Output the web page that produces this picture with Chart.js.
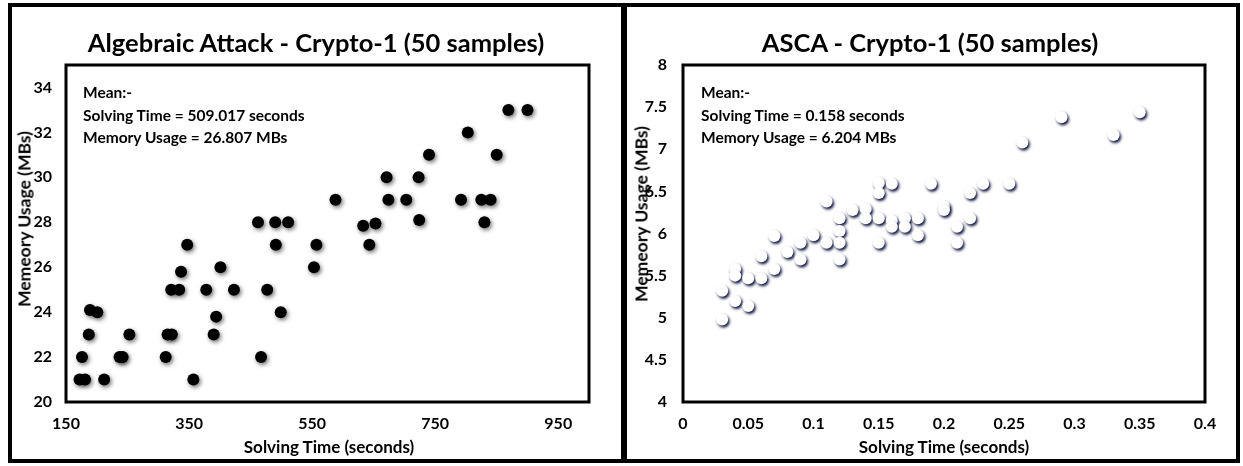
<!DOCTYPE html>
<html>
<head>
<meta charset="utf-8">
<script src="https://cdn.jsdelivr.net/npm/chart.js@4"></script>
<style>
  body { margin: 0; background: #fff; width: 1243px; height: 466px; position: relative; overflow: hidden; font-family: Lato, "Liberation Sans", sans-serif; font-weight: bold; color: #000; }
  .panel { position: absolute; box-sizing: border-box; border: 4px solid #000; }
  canvas { position: absolute; top: 0; }
  .txt { position: absolute; white-space: nowrap; }
  .title { font-size: 25.5px; text-align: center; line-height: 28px; }
  .axis { font-size: 17px; transform: translate(-50%, -50%); }
  .yaxis { font-size: 17.5px; transform: translate(-50%, -50%) rotate(-90deg); }
  .note { font-size: 15.5px; line-height: 22.5px; }
</style>
</head>
<body>
<div class="panel" style="left:8px;top:3px;width:613px;height:460px;border-right:none"></div>
<div class="panel" style="left:621px;top:3px;width:619px;height:460px;border-left-width:6px"></div>

<canvas id="c1" width="620" height="466" style="left:0"></canvas>
<canvas id="c2" width="623" height="466" style="left:620px"></canvas>

<div class="txt title" style="left:16px;width:600px;top:28px">Algebraic Attack - Crypto-1 (50 samples)</div>
<div class="txt title" style="left:630px;width:600px;top:28px">ASCA - Crypto-1 (50 samples)</div>

<div class="txt note" style="left:83px;top:81px">Mean:-<br>Solving Time = 509.017 seconds<br>Memory Usage = 26.807 MBs</div>
<div class="txt note" style="left:701px;top:81px">Mean:-<br>Solving Time = 0.158 seconds<br>Memory Usage = 6.204 MBs</div>

<div class="txt axis" style="left:329px;top:446px">Solving Time (seconds)</div>
<div class="txt axis" style="left:944px;top:446px">Solving Time (seconds)</div>
<div class="txt yaxis" style="left:24px;top:219px">Memeory Usage (MBs)</div>
<div class="txt yaxis" style="left:641px;top:214px">Memeory Usage (MBs)</div>

<script>
// Algebraic attack: solving time (s) and memory (MB) per sample
const algTime = [172, 181, 212, 357, 176, 237, 242, 312, 467, 187,
                 253, 315, 322, 390, 189, 201, 394, 499, 321, 334,
                 378, 423, 477, 337, 401, 347, 491, 557, 553, 462,
                 490, 511, 588, 633, 653, 643, 671, 674, 703, 723,
                 724, 740, 792, 803, 825, 840, 830, 850, 869, 900];
const algMem = [21, 21, 21, 21, 22, 22, 22, 22, 22, 23,
                23, 23, 23, 23, 24.1, 24, 23.8, 24, 25, 25,
                25, 25, 25, 25.8, 26, 27, 27, 27, 26, 28,
                28, 28, 29, 27.85, 27.95, 27, 30, 29, 29, 30,
                28.1, 31, 29, 32, 29, 29, 28, 31, 33, 33];

// ASCA: solving time (s) and memory (MB)
const ascaTime = [0.03, 0.03, 0.04, 0.05, 0.04, 0.04, 0.05, 0.06, 0.06, 0.07,
                  0.07, 0.08, 0.09, 0.09, 0.10, 0.11, 0.11, 0.12, 0.12, 0.12,
                  0.12, 0.13, 0.14, 0.14, 0.15, 0.15, 0.15, 0.15, 0.16, 0.16,
                  0.16, 0.17, 0.17, 0.18, 0.18, 0.19, 0.20, 0.20, 0.21, 0.21,
                  0.22, 0.22, 0.23, 0.25, 0.26, 0.29, 0.33, 0.35];
const ascaMem = [4.98, 5.32, 5.2, 5.14, 5.58, 5.5, 5.47, 5.47, 5.73, 5.58,
                 5.97, 5.78, 5.69, 5.89, 5.98, 6.38, 5.89, 6.18, 6.03, 5.89,
                 5.69, 6.28, 6.29, 6.18, 6.6, 6.48, 6.18, 5.89, 6.59, 6.15,
                 6.08, 6.18, 6.08, 6.18, 5.98, 6.59, 6.32, 6.28, 6.08, 5.89,
                 6.48, 6.18, 6.59, 6.59, 7.08, 7.38, 7.17, 7.44];

// tick labels
const algXTicks = [150, 350, 550, 750, 950];
const algYTicks = [20, 22, 24, 26, 28, 30, 32, 34];
const ascaXTicks = [0, 0.05, 0.1, 0.15, 0.2, 0.25, 0.3, 0.35, 0.4];
const ascaYTicks = [4, 4.5, 5, 5.5, 6, 6.5, 7, 7.5, 8];

const tickFont = { family: 'Lato', size: 16, weight: 'bold' };

// frame around the plot area + soft shadow under the markers
const plotDeco = {
  id: 'plotDeco',
  beforeDatasetsDraw(chart, args, opts) {
    const { ctx, chartArea: a } = chart;
    ctx.save();
    ctx.lineWidth = 3;
    ctx.strokeStyle = '#000';
    ctx.strokeRect(a.left, a.top, a.right - a.left, a.bottom - a.top);
    ctx.restore();
    ctx.save();
    ctx.shadowColor = opts.color;
    ctx.shadowBlur = opts.blur;
    ctx.shadowOffsetX = opts.dx;
    ctx.shadowOffsetY = opts.dy;
  },
  afterDatasetsDraw(chart) {
    chart.ctx.restore();
  }
};

function makeChart(id, xs, ys, cfg) {
  return new Chart(document.getElementById(id), {
    type: 'scatter',
    data: {
      datasets: [{
        data: xs.map((x, i) => ({ x: x, y: ys[i] })),
        pointRadius: 6,
        pointHoverRadius: 6,
        backgroundColor: cfg.fill,
        borderColor: cfg.fill,
        borderWidth: 0
      }]
    },
    options: {
      responsive: false,
      animation: false,
      layout: { padding: { left: 0, top: 65, right: cfg.padRight, bottom: 0 } },
      plugins: {
        legend: { display: false },
        tooltip: { enabled: false },
        plotDeco: cfg.shadow
      },
      scales: {
        x: {
          type: 'linear',
          min: cfg.xMin,
          max: cfg.xMax,
          grid: { display: false, drawTicks: false },
          border: { display: false },
          afterBuildTicks: s => { s.ticks = cfg.xTicks.map(v => ({ value: v })); },
          afterFit: s => { s.height = 64; },
          ticks: { padding: 12, color: '#000', font: tickFont, maxRotation: 0, autoSkip: false,
                   callback: v => String(v) }
        },
        y: {
          type: 'linear',
          min: cfg.yMin,
          max: cfg.yMax,
          grid: { display: false, drawTicks: false },
          border: { display: false },
          afterBuildTicks: s => { s.ticks = cfg.yTicks.map(v => ({ value: v })); },
          afterFit: s => { s.width = cfg.yWidth; },
          ticks: { padding: cfg.yPad, color: '#000', font: tickFont, autoSkip: false,
                   callback: v => String(v) }
        }
      }
    },
    plugins: [plotDeco]
  });
}

makeChart('c1', algTime, algMem, {
  fill: '#000',
  shadow: { color: 'rgba(0,0,0,0.55)', blur: 4, dx: 1.5, dy: 2 },
  padRight: 31, yWidth: 66, yPad: 14,
  xMin: 150, xMax: 1000, yMin: 20, yMax: 35,
  xTicks: algXTicks, yTicks: algYTicks
});

makeChart('c2', ascaTime, ascaMem, {
  fill: '#fff',
  shadow: { color: 'rgba(10,15,60,1)', blur: 3, dx: 1.5, dy: 2 },
  padRight: 38, yWidth: 63, yPad: 16,
  xMin: 0, xMax: 0.4, yMin: 4, yMax: 8,
  xTicks: ascaXTicks, yTicks: ascaYTicks
});
</script>
</body>
</html>
